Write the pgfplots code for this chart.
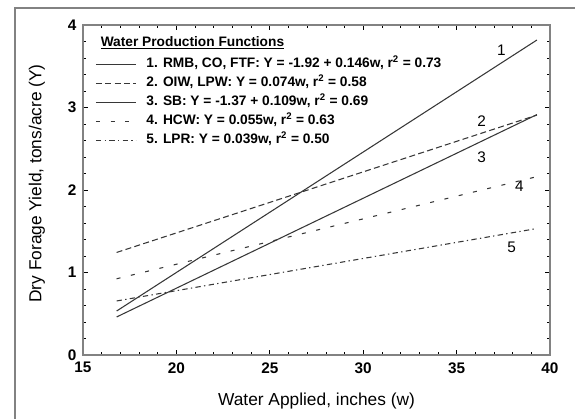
\documentclass[border=0pt]{standalone}
\usepackage{pgfplots}
\pgfplotsset{compat=1.18}
\usepackage{fontspec}
\setmainfont{Liberation Sans}
\definecolor{framegray}{RGB}{130,130,130}
\definecolor{linegray}{RGB}{55,55,55}
\begin{document}
\begin{tikzpicture}
\begin{axis}[
  scale only axis,
  width=350.25pt, height=247.5pt,
  xmin=15, xmax=40, ymin=0, ymax=4,
  xtick={15,20,...,40}, ytick={0,1,...,4},
  minor x tick num=4, minor y tick num=4,
  tick align=inside,
  major tick length=4pt, minor tick length=2.5pt,
  tick style={black, line width=0.5pt},
  axis line style={framegray, line width=1.1pt},
  /pgf/number format/assume math mode=true,
  ticklabel style={font=\bfseries\fontsize{11.5}{13}\selectfont},
  xticklabel shift=2pt, yticklabel shift=1.5pt,
  xlabel={Water Applied, inches (w)},
  ylabel={Dry Forage Yield, tons/acre (Y)},
  label style={font=\fontsize{13}{15}\selectfont},
  xlabel style={at={(axis description cs:0.5,-0.139)}, anchor=center},
  ylabel style={at={(axis description cs:-0.0985,0.52)}, anchor=center},
  legend style={at={(rel axis cs:0.026,0.91)}, anchor=north west, draw=none, fill=none,
    inner sep=0pt, row sep=0pt,
    font=\bfseries\fontsize{10.3}{12}\selectfont,
    nodes={inner sep=1.5pt, text height=8pt, text depth=3.2pt},
    /tikz/every odd column/.append style={column sep=6pt}},
  legend cell align=left,
  legend image code/.code={\draw[#1] (0pt,0pt) -- (30pt,0pt);},
  every axis plot/.append style={linegray, line width=0.8pt},
]
\addplot[solid] coordinates {(16.8,0.533) (39.3,3.818)};
\addlegendentry{1. RMB, CO, FTF: Y = -1.92 + 0.146w, r\textsuperscript{2} = 0.73}
\addplot[dash pattern=on 4.5pt off 2.5pt] coordinates {(16.8,1.243) (39.3,2.908)};
\addlegendentry{2. OIW, LPW: Y = 0.074w, r\textsuperscript{2} = 0.58}
\addplot[solid] coordinates {(16.8,0.461) (39.3,2.914)};
\addlegendentry{3. SB: Y = -1.37 + 0.109w, r\textsuperscript{2} = 0.69}
\addplot[dash pattern=on 3pt off 8pt] coordinates {(16.8,0.924) (39.3,2.162)};
\addlegendentry{4. HCW: Y = 0.055w, r\textsuperscript{2} = 0.63}
\addplot[dash pattern=on 4pt off 2.5pt on 1pt off 2.5pt] coordinates {(16.8,0.655) (39.3,1.533)};
\addlegendentry{5. LPR: Y = 0.039w, r\textsuperscript{2} = 0.50}
\node[anchor=west, font=\bfseries\fontsize{10.3}{12}\selectfont] at (rel axis cs:0.028,0.945) {\underline{Water Production Functions}};
\begin{scope}[font=\fontsize{11.5}{13}\selectfont]
\node at (axis cs:37.4,3.70) {1};
\node at (axis cs:36.34,2.83) {2};
\node at (axis cs:36.34,2.40) {3};
\node at (axis cs:38.36,2.04) {4};
\node at (axis cs:37.95,1.31) {5};
\end{scope}
\end{axis}
\draw[framegray, line width=1.1pt] (-51pt,-80pt) -- (-51pt,260.25pt) -- (400pt,260.25pt);
\pgfresetboundingbox
\useasboundingbox (-62.25pt,-47.25pt) rectangle (369pt,266.25pt);
\end{tikzpicture}
\end{document}
